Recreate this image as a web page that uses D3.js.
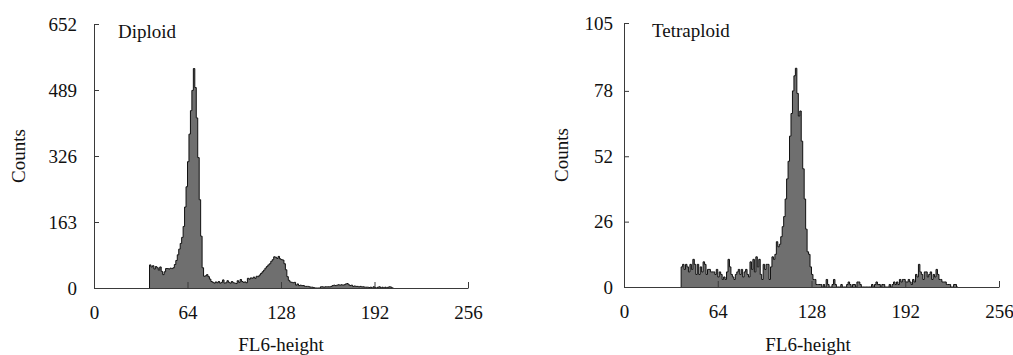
<!DOCTYPE html>
<html>
<head>
<meta charset="utf-8">
<script src="https://cdn.jsdelivr.net/npm/d3@7"></script>
<style>
  body { margin: 0; background: #fff; }
  svg { display: block; }
</style>
</head>
<body>
<svg id="chart" width="1013" height="355"></svg>
<script>
// FL6-height channels on the x axis, 0..256
const xTicks = [0, 64, 128, 192, 256];

// Diploid histogram: counts per channel, first channel = diploidStart
const diploidTicks = [0, 163, 326, 489, 652];
const diploidStart = 38;
const diploidCounts = [
  57, 52, 55, 47, 53, 50, 44, 52, 41, 33,
  40, 48, 48, 47, 49, 48, 50, 58, 68, 82,
  96, 110, 125, 152, 200, 250, 312, 380, 438, 488,
  542, 495, 420, 322, 218, 128, 50, 29, 30, 33,
  28, 22, 16, 14, 12, 15, 13, 16, 12, 14,
  20, 12, 13, 18, 14, 12, 16, 13, 12, 11,
  18, 14, 21, 16, 14, 15, 13, 24, 22, 25,
  24, 27, 24, 29, 28, 32, 36, 40, 44, 49,
  53, 57, 60, 66, 70, 77, 76, 73, 78, 72,
  70, 69, 60, 45, 28, 19, 15, 14, 13, 14,
  7, 10, 6, 7, 6, 6, 4, 4, 4, 3,
  2, 2, 1, 0, 0, 0, 0, 3, 3, 2,
  3, 3, 3, 3, 4, 6, 7, 6, 7, 8,
  7, 8, 7, 8, 10, 11, 8, 6, 7, 4,
  5, 4, 4, 3, 4, 3, 3, 2, 2, 2,
  1, 2, 0, 3, 1, 0, 2, 3, 0, 2,
  0, 2, 0, 2, 3, 2, 0
];

// Tetraploid histogram
const tetraTicks = [0, 26, 52, 78, 105];
const tetraStart = 39;
const tetraCounts = [
  8, 9, 7, 9, 8, 6, 9, 7, 11, 9,
  5, 9, 5, 8, 6, 10, 9, 5, 7, 7,
  6, 6, 6, 5, 7, 4, 6, 5, 3, 4,
  3, 6, 11, 8, 5, 4, 3, 5, 6, 7,
  5, 7, 4, 6, 7, 5, 4, 10, 7, 11,
  6, 12, 8, 11, 5, 3, 9, 7, 9, 9,
  3, 8, 12, 11, 13, 18, 16, 17, 20, 24,
  28, 35, 43, 50, 60, 69, 78, 84, 87, 77,
  68, 70, 58, 47, 35, 23, 14, 13, 8, 5,
  3, 3, 1, 1, 1, 1, 0, 1, 0, 3,
  1, 0, 0, 1, 3, 1, 0, 0, 0, 1,
  0, 0, 0, 1, 2, 1, 0, 1, 1, 0,
  2, 2, 1, 0, 0, 0, 0, 0, 0, 0,
  1, 0, 1, 2, 1, 1, 0, 1, 1, 0,
  0, 0, 1, 0, 1, 2, 1, 2, 1, 3,
  2, 3, 3, 2, 2, 3, 2, 1, 3, 2,
  5, 4, 9, 6, 5, 3, 6, 6, 4, 5,
  6, 3, 5, 4, 7, 5, 3, 3, 2, 2,
  2, 1, 1, 1, 0, 0, 1, 1, 0
];

const panels = [
  {title: "Diploid", start: diploidStart, counts: diploidCounts, yTicks: diploidTicks,
   left: 94, right: 468, top: 24, bottom: 288, labelGap: 17, titleX: 118, titleY: 38,
   countsX: 18.5, xLabelX: 281},
  {title: "Tetraploid", start: tetraStart, counts: tetraCounts, yTicks: tetraTicks,
   left: 624, right: 999, top: 23, bottom: 287, labelGap: 11, titleX: 652, titleY: 37,
   countsX: 561.5, xLabelX: 808},
];

const FONT = "'Liberation Serif', 'Times New Roman', Times, serif";
const AXIS = "#3a3a3a";
const svg = d3.select("#chart").attr("font-family", FONT);

for (const p of panels) {
  const x = d3.scaleLinear().domain([0, 256]).range([p.left, p.right]);
  const y = d3.scaleLinear().domain([0, d3.max(p.yTicks)]).range([p.bottom, p.top]);

  // step points: zero before first channel, one point per channel, close after last
  const pts = [{c: p.start, v: 0}];
  p.counts.forEach((v, i) => pts.push({c: p.start + i, v}));
  pts.push({c: p.start + p.counts.length, v: 0});

  const area = d3.area()
    .curve(d3.curveStepAfter)
    .x(d => x(d.c))
    .y0(y(0))
    .y1(d => y(d.v));
  const line = d3.line()
    .curve(d3.curveStepAfter)
    .x(d => x(d.c))
    .y(d => y(d.v));

  svg.append("path").datum(pts)
    .attr("d", area)
    .attr("fill", "#6f6f6f");
  svg.append("path").datum(pts)
    .attr("d", line)
    .attr("fill", "none")
    .attr("stroke", "#111")
    .attr("stroke-width", 1);

  // Axes - ticks point inward
  const gx = svg.append("g")
    .attr("transform", `translate(0,${p.bottom})`)
    .call(d3.axisBottom(x).tickValues(xTicks).tickSizeInner(-6).tickSizeOuter(0).tickPadding(18));
  const gy = svg.append("g")
    .attr("transform", `translate(${p.left},0)`)
    .call(d3.axisLeft(y).tickValues(p.yTicks).tickSizeInner(-5).tickSizeOuter(0).tickPadding(p.labelGap));
  for (const g of [gx, gy]) {
    g.attr("font-family", FONT).attr("font-size", 19);
    g.selectAll("path, line").attr("stroke", AXIS);
    g.selectAll("text").attr("fill", "#111");
  }

  svg.append("text")
    .attr("x", p.titleX).attr("y", p.titleY)
    .attr("font-family", FONT)
    .attr("font-size", 19).attr("fill", "#111")
    .text(p.title);

  svg.append("text")
    .attr("transform", `translate(${p.countsX},${(p.top + p.bottom) / 2}) rotate(-90)`)
    .attr("text-anchor", "middle")
    .attr("dy", "0.35em")
    .attr("font-family", FONT)
    .attr("font-size", 19).attr("fill", "#111")
    .text("Counts");

  svg.append("text")
    .attr("x", p.xLabelX).attr("y", 351)
    .attr("text-anchor", "middle")
    .attr("font-family", FONT)
    .attr("font-size", 19).attr("fill", "#111")
    .text("FL6-height");
}
</script>
</body>
</html>
